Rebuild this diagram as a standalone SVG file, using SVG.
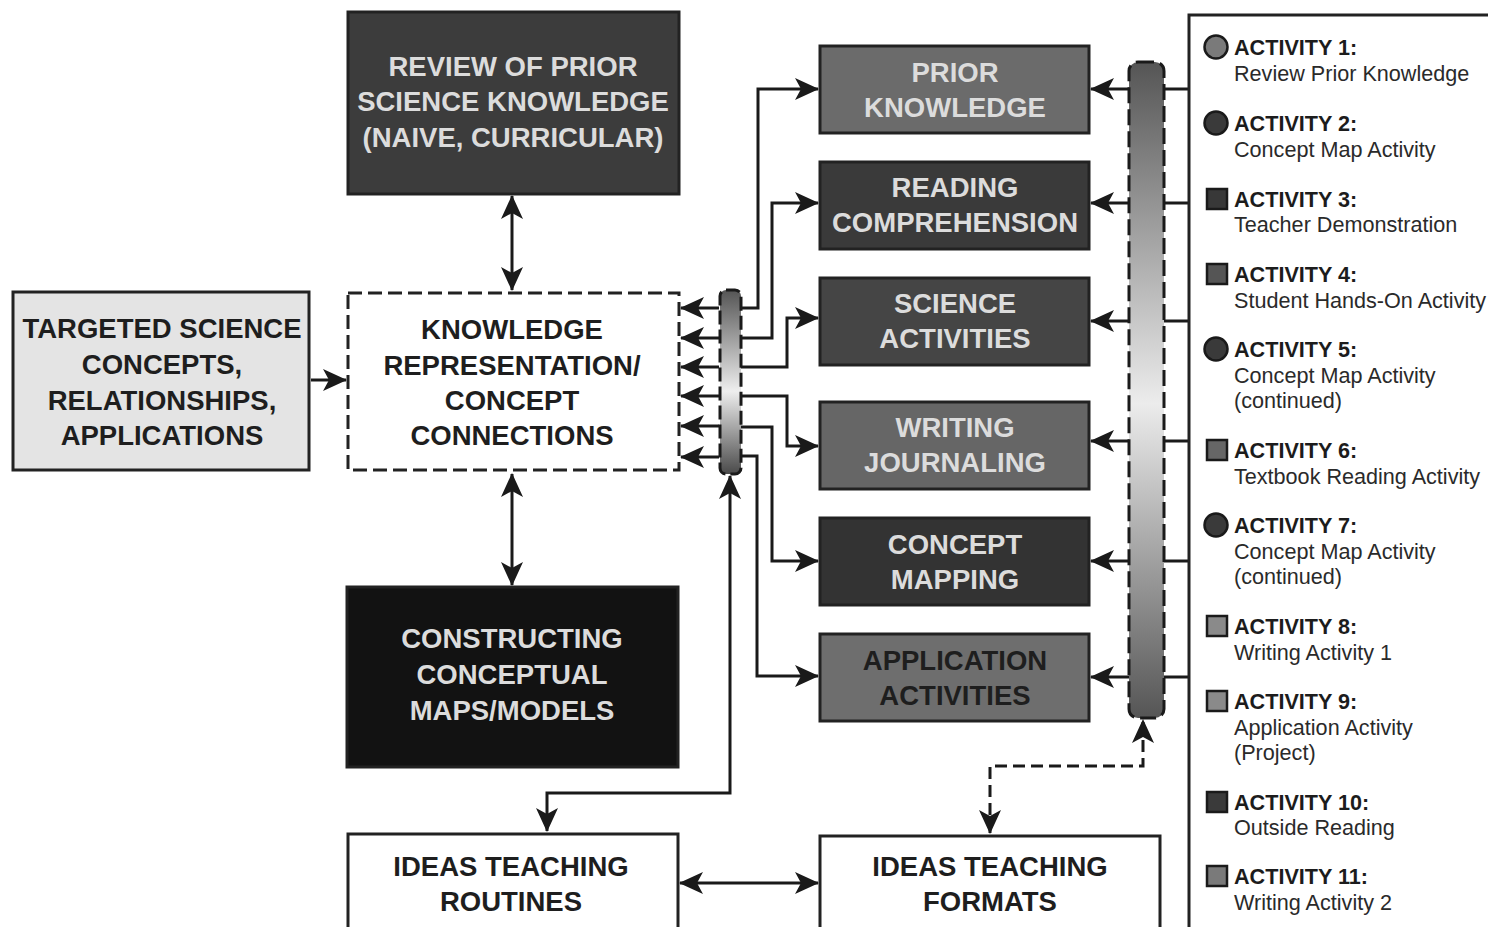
<svg xmlns="http://www.w3.org/2000/svg" width="1488" height="927" viewBox="0 0 1488 927">
  <defs>
    <style>
      .box { stroke: #222; stroke-width: 3; }
      .big { font-family: "Liberation Sans", Arial, sans-serif; font-weight: bold; font-size: 27.5px; text-anchor: middle; }
      .light { fill: #dcdcdc; }
      .dark { fill: #1e1e1e; }
      .wire { fill: none; stroke: #1a1a1a; stroke-width: 3; }
      .dash { stroke-dasharray: 12 6; }
      .lt { font-family: "Liberation Sans", Arial, sans-serif; font-size: 21.6px; fill: #2a2a2a; }
      .lt .t { font-weight: bold; fill: #1c1c1c; }
      .ico { stroke: #1a1a1a; stroke-width: 2.5; }
    </style>
    <marker id="arrow" viewBox="0 0 24 22" markerWidth="24" markerHeight="22" refX="23" refY="11" orient="auto-start-reverse" markerUnits="userSpaceOnUse">
      <path d="M0,0 L24,11 L0,22 L6,11 Z" fill="#1a1a1a"/>
    </marker>
    <linearGradient id="barSmall" x1="0" y1="0" x2="0" y2="1">
      <stop offset="0" stop-color="#555"/>
      <stop offset="0.55" stop-color="#eeeeee"/>
      <stop offset="1" stop-color="#4a4a4a"/>
    </linearGradient>
    <linearGradient id="barBig" x1="0" y1="0" x2="0" y2="1">
      <stop offset="0" stop-color="#555"/>
      <stop offset="0.52" stop-color="#ececec"/>
      <stop offset="1" stop-color="#555"/>
    </linearGradient>
  </defs>

  <rect width="1488" height="927" fill="#ffffff"/>

  <!-- connectors -->
  <g id="connectors">
    <path class="wire" d="M512,196 V290" marker-start="url(#arrow)" marker-end="url(#arrow)"/>
    <path class="wire" d="M512,474 V585" marker-start="url(#arrow)" marker-end="url(#arrow)"/>
    <path class="wire" d="M311,380 H346" marker-end="url(#arrow)"/>
    <!-- hub to knowledge representation -->
    <path class="wire" d="M719,308 H681" marker-end="url(#arrow)"/>
    <path class="wire" d="M719,338 H681" marker-end="url(#arrow)"/>
    <path class="wire" d="M719,367 H681" marker-end="url(#arrow)"/>
    <path class="wire" d="M719,396 H681" marker-end="url(#arrow)"/>
    <path class="wire" d="M719,426 H681" marker-end="url(#arrow)"/>
    <path class="wire" d="M719,457 H681" marker-end="url(#arrow)"/>
    <!-- hub to component boxes -->
    <path class="wire" d="M741,308 H758 V89 H818" marker-end="url(#arrow)"/>
    <path class="wire" d="M741,338 H772 V203 H818" marker-end="url(#arrow)"/>
    <path class="wire" d="M741,367 H787 V318 H818" marker-end="url(#arrow)"/>
    <path class="wire" d="M741,396 H787 V446 H818" marker-end="url(#arrow)"/>
    <path class="wire" d="M741,427 H772 V561 H818" marker-end="url(#arrow)"/>
    <path class="wire" d="M741,456 H757 V676 H818" marker-end="url(#arrow)"/>
    <!-- routines -->
    <path class="wire" d="M547,831 V793 H730 V476" marker-start="url(#arrow)" marker-end="url(#arrow)"/>
    <path class="wire" d="M680,883 H818" marker-start="url(#arrow)" marker-end="url(#arrow)"/>
    <path class="wire dash" d="M990,833 V766 H1143 V720" marker-start="url(#arrow)" marker-end="url(#arrow)"/>
    <!-- activity bar to component boxes and legend -->
    <path class="wire" d="M1129,89 H1091" marker-end="url(#arrow)"/>
    <path class="wire" d="M1129,203 H1091" marker-end="url(#arrow)"/>
    <path class="wire" d="M1129,321 H1091" marker-end="url(#arrow)"/>
    <path class="wire" d="M1129,441 H1091" marker-end="url(#arrow)"/>
    <path class="wire" d="M1129,561 H1091" marker-end="url(#arrow)"/>
    <path class="wire" d="M1129,677 H1091" marker-end="url(#arrow)"/>
    <path class="wire" d="M1164,89 H1188 M1164,203 H1188 M1164,321 H1188 M1164,441 H1188 M1164,561 H1188 M1164,677 H1188"/>
  </g>

  <!-- hubs -->
  <g id="hub-small">
    <rect x="720" y="290" width="21" height="184" rx="6" fill="url(#barSmall)" stroke="#1a1a1a" stroke-width="3" stroke-dasharray="14 5"/>
  </g>
  <g id="hub-activities">
    <rect x="1129" y="62" width="35" height="656" rx="9" fill="url(#barBig)" stroke="#1a1a1a" stroke-width="3" stroke-dasharray="16 6"/>
  </g>

  <!-- left column -->
  <g id="review">
    <rect class="box" x="348" y="12" width="331" height="182" fill="#3c3c3c"/>
    <text class="big light" x="513" y="76">REVIEW OF PRIOR</text>
    <text class="big light" x="513" y="111">SCIENCE KNOWLEDGE</text>
    <text class="big light" x="513" y="147">(NAIVE, CURRICULAR)</text>
  </g>
  <g id="targeted">
    <rect class="box" x="13" y="292" width="296" height="178" fill="#e4e4e4"/>
    <text class="big dark" x="162" y="338">TARGETED SCIENCE</text>
    <text class="big dark" x="162" y="374">CONCEPTS,</text>
    <text class="big dark" x="162" y="410">RELATIONSHIPS,</text>
    <text class="big dark" x="162" y="445">APPLICATIONS</text>
  </g>
  <g id="knowledge">
    <rect x="348" y="293" width="331" height="177" fill="#ffffff" stroke="#222" stroke-width="3" stroke-dasharray="14 6"/>
    <text class="big dark" x="512" y="339">KNOWLEDGE</text>
    <text class="big dark" x="512" y="375">REPRESENTATION/</text>
    <text class="big dark" x="512" y="410">CONCEPT</text>
    <text class="big dark" x="512" y="445">CONNECTIONS</text>
  </g>
  <g id="constructing">
    <rect class="box" x="347" y="587" width="331" height="180" fill="#121212"/>
    <text class="big light" x="512" y="648">CONSTRUCTING</text>
    <text class="big light" x="512" y="684">CONCEPTUAL</text>
    <text class="big light" x="512" y="720">MAPS/MODELS</text>
  </g>
  <g id="routines">
    <rect class="box" x="348" y="834" width="330" height="100" fill="#ffffff"/>
    <text class="big dark" x="511" y="876">IDEAS TEACHING</text>
    <text class="big dark" x="511" y="911">ROUTINES</text>
  </g>
  <g id="formats">
    <rect class="box" x="820" y="836" width="340" height="100" fill="#ffffff"/>
    <text class="big dark" x="990" y="876">IDEAS TEACHING</text>
    <text class="big dark" x="990" y="911">FORMATS</text>
  </g>

  <!-- component boxes -->
  <g id="prior-knowledge">
    <rect class="box" x="820" y="46" width="269" height="87" fill="#6b6b6b"/>
    <text class="big light" x="955" y="82">PRIOR</text>
    <text class="big light" x="955" y="117">KNOWLEDGE</text>
  </g>
  <g id="reading">
    <rect class="box" x="820" y="162" width="269" height="87" fill="#3a3a3a"/>
    <text class="big light" x="955" y="197">READING</text>
    <text class="big light" x="955" y="232">COMPREHENSION</text>
  </g>
  <g id="science">
    <rect class="box" x="820" y="278" width="269" height="87" fill="#454545"/>
    <text class="big light" x="955" y="313">SCIENCE</text>
    <text class="big light" x="955" y="348">ACTIVITIES</text>
  </g>
  <g id="writing">
    <rect class="box" x="820" y="402" width="269" height="87" fill="#666666"/>
    <text class="big light" x="955" y="437">WRITING</text>
    <text class="big light" x="955" y="472">JOURNALING</text>
  </g>
  <g id="concept-mapping">
    <rect class="box" x="820" y="518" width="269" height="87" fill="#333333"/>
    <text class="big light" x="955" y="554">CONCEPT</text>
    <text class="big light" x="955" y="589">MAPPING</text>
  </g>
  <g id="application">
    <rect class="box" x="820" y="634" width="269" height="87" fill="#6e6e6e"/>
    <text class="big dark" x="955" y="670">APPLICATION</text>
    <text class="big dark" x="955" y="705">ACTIVITIES</text>
  </g>

  <!-- legend -->
  <g id="legend">
    <path d="M1189,940 V15 H1500" fill="none" stroke="#222" stroke-width="3"/>
    <circle class="ico" cx="1216" cy="47" r="11.5" fill="#7a7a7a"/>
    <circle class="ico" cx="1216" cy="123" r="11.5" fill="#3a3a3a"/>
    <rect class="ico" x="1207" y="189" width="20" height="20" fill="#383838"/>
    <rect class="ico" x="1207" y="264" width="20" height="20" fill="#555"/>
    <circle class="ico" cx="1216" cy="349" r="11.5" fill="#3a3a3a"/>
    <rect class="ico" x="1207" y="440" width="20" height="20" fill="#666"/>
    <circle class="ico" cx="1216" cy="525" r="11.5" fill="#3a3a3a"/>
    <rect class="ico" x="1207" y="616" width="20" height="20" fill="#8a8a8a"/>
    <rect class="ico" x="1207" y="691" width="20" height="20" fill="#8a8a8a"/>
    <rect class="ico" x="1207" y="792" width="20" height="20" fill="#3a3a3a"/>
    <rect class="ico" x="1207" y="866" width="20" height="20" fill="#7a7a7a"/>
    <g class="lt">
      <text class="t" x="1234" y="55">ACTIVITY 1:</text>
      <text x="1234" y="81">Review Prior Knowledge</text>
      <text class="t" x="1234" y="131">ACTIVITY 2:</text>
      <text x="1234" y="157">Concept Map Activity</text>
      <text class="t" x="1234" y="207">ACTIVITY 3:</text>
      <text x="1234" y="232">Teacher Demonstration</text>
      <text class="t" x="1234" y="282">ACTIVITY 4:</text>
      <text x="1234" y="308">Student Hands-On Activity</text>
      <text class="t" x="1234" y="357">ACTIVITY 5:</text>
      <text x="1234" y="383">Concept Map Activity</text>
      <text x="1234" y="408">(continued)</text>
      <text class="t" x="1234" y="458">ACTIVITY 6:</text>
      <text x="1234" y="484">Textbook Reading Activity</text>
      <text class="t" x="1234" y="533">ACTIVITY 7:</text>
      <text x="1234" y="559">Concept Map Activity</text>
      <text x="1234" y="584">(continued)</text>
      <text class="t" x="1234" y="634">ACTIVITY 8:</text>
      <text x="1234" y="660">Writing Activity 1</text>
      <text class="t" x="1234" y="709">ACTIVITY 9:</text>
      <text x="1234" y="735">Application Activity</text>
      <text x="1234" y="760">(Project)</text>
      <text class="t" x="1234" y="810">ACTIVITY 10:</text>
      <text x="1234" y="835">Outside Reading</text>
      <text class="t" x="1234" y="884">ACTIVITY 11:</text>
      <text x="1234" y="910">Writing Activity 2</text>
    </g>
  </g>
</svg>
